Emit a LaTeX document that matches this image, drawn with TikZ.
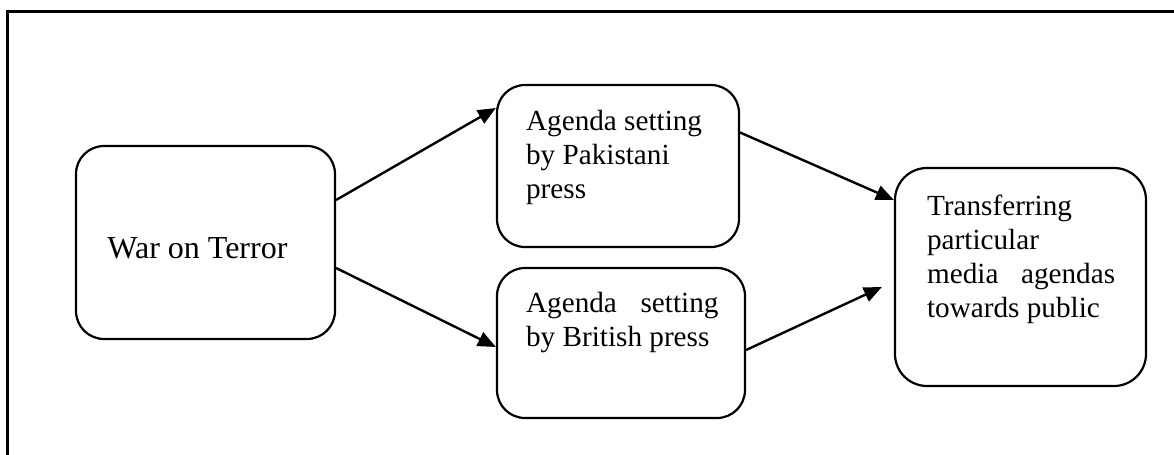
\documentclass[tikz,border=0pt]{standalone}
\usepackage{fontspec}
\setmainfont{Liberation Serif}
\usetikzlibrary{arrows.meta,calc}
\begin{document}
\begin{tikzpicture}[x=0.5pt,y=-0.5pt,
  box/.style={draw, line width=1.1pt, rounded corners=14pt, inner sep=0pt},
  txt/.style={anchor=base west, inner sep=0pt, font=\fontsize{14.6pt}{17pt}\selectfont},
  link/.style={line width=1.2pt, -{Triangle[length=9pt,width=7.5pt]}}]
  \useasboundingbox (0,0) rectangle (1174,455);

  % outer frame (top and left edges)
  \draw[line width=1.5pt] (7,455) -- (7,11.5) -- (1174,11.5);

  % boxes
  \node[box, minimum width=129.5pt, minimum height=96.5pt] (war) at (205.5,242.5) {};
  \node[box, minimum width=121pt, minimum height=81pt] (pak) at (618,166) {};
  \node[box, minimum width=124pt, minimum height=75pt] (brit) at (621,343) {};
  \node[box, minimum width=125.5pt, minimum height=109pt, rounded corners=16pt] (trans) at (1020.5,277) {};

  % texts
  \node[txt, font=\fontsize{16pt}{18pt}\selectfont] (twar) at (107,258) {War on Terror};
  \node[txt] (tpak) at (525.7,130.7)
    {\vtop{\hbox{Agenda setting}\hbox{by Pakistani}\hbox{press}}};
  \node[txt] (tbrit) at (525.7,312)
    {\vtop{\hbox to 96.2pt{Agenda\hfill setting}\hbox{by British press}}};
  \node[txt] (ttrans) at (926.7,215)
    {\vtop{\hbox{Transferring}\hbox{particular}\hbox to 94pt{media\hfill agendas}\hbox{towards public}}};

  % connectors
  \draw[link] ($(war.east)+(0,-42.5)$) -- ($(pak.west)+(0,-58)$);
  \draw[link] ($(war.east)+(0,25.5)$) -- ($(brit.west)+(0,4)$);
  \draw[link] ($(pak.east)+(0,-33.5)$) -- ($(trans.west)+(0,-77)$);
  \draw[link] ($(brit.east)+(0,7)$) -- ($(trans.west)+(-12,10)$);
\end{tikzpicture}
\end{document}
